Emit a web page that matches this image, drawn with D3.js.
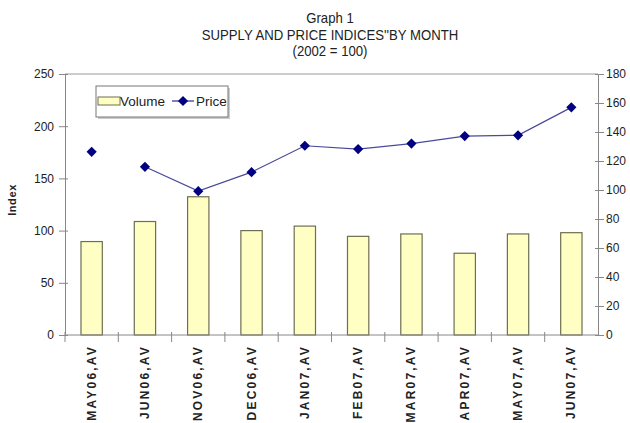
<!DOCTYPE html>
<html>
<head>
<meta charset="utf-8">
<script src="https://cdn.jsdelivr.net/npm/d3@7"></script>
<style>
  body { margin: 0; background: #fff; }
  text { font-family: "Liberation Sans", Arial, sans-serif; }
  .bold { font-weight: bold; }
</style>
</head>
<body>
<div id="chart"></div>
<script>
const months = ['MAY06,AV', 'JUN06,AV', 'NOV06,AV', 'DEC06,AV', 'JAN07,AV',
  'FEB07,AV', 'MAR07,AV', 'APR07,AV', 'MAY07,AV', 'JUN07,AV'];
const volume = [89.5, 108.7, 132.4, 100, 104.3, 94.5, 96.8, 78.3, 96.8, 98];
const price = [126.3, 116, 99.2, 112.3, 130.5, 128.2, 132, 137.2, 137.7, 157];
const leftTicks = [0, 50, 100, 150, 200, 250];
const rightTicks = [0, 20, 40, 60, 80, 100, 120, 140, 160, 180];

const width = 630;
const height = 423;
const margin = { top: 74, right: 32, bottom: 88, left: 65 };
const innerW = width - margin.left - margin.right;
const innerH = height - margin.top - margin.bottom;

// squeeze a text element horizontally around its own x
function narrow(sel, k) {
  sel.each(function () {
    const t = d3.select(this);
    const tx = +t.attr('x') || 0;
    const ty = +t.attr('y') || 0;
    t.attr('x', 0).attr('y', 0)
      .attr('transform', `translate(${tx},${ty}) scale(${k},1)`);
  });
}

const svg = d3.select('#chart')
  .append('svg')
  .attr('width', width)
  .attr('height', height);

// title
const titles = ['Graph 1', "SUPPLY AND PRICE INDICES''BY MONTH", '(2002 = 100)'];
svg.selectAll('.title')
  .data(titles)
  .enter().append('text')
  .attr('class', 'title')
  .attr('x', 330)
  .attr('y', (d, i) => 23 + i * 16.5)
  .attr('text-anchor', 'middle')
  .style('font-size', '14px')
  .style('fill', '#222')
  .text(d => d)
  .call(narrow, 0.94);

const g = svg.append('g')
  .attr('transform', `translate(${margin.left},${margin.top})`);

const xb = d3.scaleBand().domain(months).range([0, innerW]);
const yL = d3.scaleLinear().domain([0, 250]).range([innerH, 0]);
const yR = d3.scaleLinear().domain([0, 180]).range([innerH, 0]);

// plot frame top line
g.append('line')
  .attr('x1', 0).attr('x2', innerW)
  .attr('y1', 0).attr('y2', 0)
  .attr('stroke', '#999');

// bars
const barW = xb.bandwidth() / 2.5;
g.selectAll('.bar')
  .data(volume)
  .enter().append('rect')
  .attr('class', 'bar')
  .attr('x', (d, i) => xb(months[i]) + (xb.bandwidth() - barW) / 2)
  .attr('width', barW)
  .attr('y', d => yL(d))
  .attr('height', d => innerH - yL(d))
  .attr('fill', '#ffffc4')
  .attr('stroke', '#6e6e50')
  .attr('stroke-width', 1.2);

// price line (the first point is not joined in the original)
const line = d3.line()
  .x((d, i) => xb(months[i + 1]) + xb.bandwidth() / 2)
  .y(d => yR(d));

g.append('path')
  .datum(price.slice(1))
  .attr('d', line)
  .attr('fill', 'none')
  .attr('stroke', '#4a4a9a')
  .attr('stroke-width', 1.2);

const diamond = d3.symbol().type(d3.symbolSquare).size(52);
g.selectAll('.pt')
  .data(price)
  .enter().append('path')
  .attr('class', 'pt')
  .attr('d', diamond)
  .attr('transform', (d, i) => `translate(${xb(months[i]) + xb.bandwidth() / 2},${yR(d)}) rotate(45)`)
  .attr('fill', '#000080');

// axes
const axisL = g.append('g')
  .call(d3.axisLeft(yL).tickValues(leftTicks).tickSize(6).tickPadding(5));
const axisR = g.append('g')
  .attr('transform', `translate(${innerW},0)`)
  .call(d3.axisRight(yR).tickValues(rightTicks).tickSize(6).tickPadding(2));
[axisL, axisR].forEach(a => {
  a.select('.domain').attr('stroke', '#888');
  a.selectAll('.tick line').attr('stroke', '#888').attr('x1', a === axisL ? 3 : -3);
  a.selectAll('.tick text')
    .style('font-size', '12px')
    .style('fill', '#222');
});

// x axis with ticks between categories
const xAxis = g.append('g').attr('transform', `translate(0,${innerH})`);
xAxis.append('line')
  .attr('x1', 0).attr('x2', innerW)
  .attr('stroke', '#888');
xAxis.selectAll('.xtick')
  .data(months)
  .enter().append('line')
  .attr('x1', d => xb(d)).attr('x2', d => xb(d))
  .attr('y1', -3).attr('y2', 7)
  .attr('stroke', '#888');
xAxis.selectAll('.xlabel')
  .data(months)
  .enter().append('text')
  .attr('class', 'bold')
  .attr('transform', d => `translate(${xb(d) + xb.bandwidth() / 2 + 4},10) rotate(-90)`)
  .attr('text-anchor', 'end')
  .style('font-size', '12px')
  .style('fill', '#222')
  .style('letter-spacing', '2.2px')
  .text(d => d);

// y axis title
svg.append('text')
  .attr('class', 'bold')
  .attr('transform', 'translate(16,200) rotate(-90)')
  .attr('text-anchor', 'middle')
  .style('font-size', '11px')
  .style('fill', '#222')
  .style('letter-spacing', '0.6px')
  .text('Index');

// legend
const legend = svg.append('g').attr('transform', 'translate(96,86)');
legend.append('rect')
  .attr('x', 2).attr('y', 2)
  .attr('width', 132).attr('height', 31)
  .attr('fill', '#ccc');
legend.append('rect')
  .attr('width', 132).attr('height', 31)
  .attr('fill', '#fff')
  .attr('stroke', '#777');
legend.append('rect')
  .attr('x', 2).attr('y', 11)
  .attr('width', 22).attr('height', 8)
  .attr('fill', '#ffffc4')
  .attr('stroke', '#6e6e50');
legend.append('text')
  .attr('x', 24).attr('y', 20)
  .style('font-size', '13.5px')
  .style('fill', '#222')
  .text('Volume');
legend.append('line')
  .attr('x1', 76).attr('x2', 98)
  .attr('y1', 15).attr('y2', 15)
  .attr('stroke', '#000080');
legend.append('path')
  .attr('d', diamond)
  .attr('transform', 'translate(87,15) rotate(45)')
  .attr('fill', '#000080');
legend.append('text')
  .attr('x', 100).attr('y', 20)
  .style('font-size', '13.5px')
  .style('fill', '#222')
  .text('Price');
</script>
</body>
</html>
